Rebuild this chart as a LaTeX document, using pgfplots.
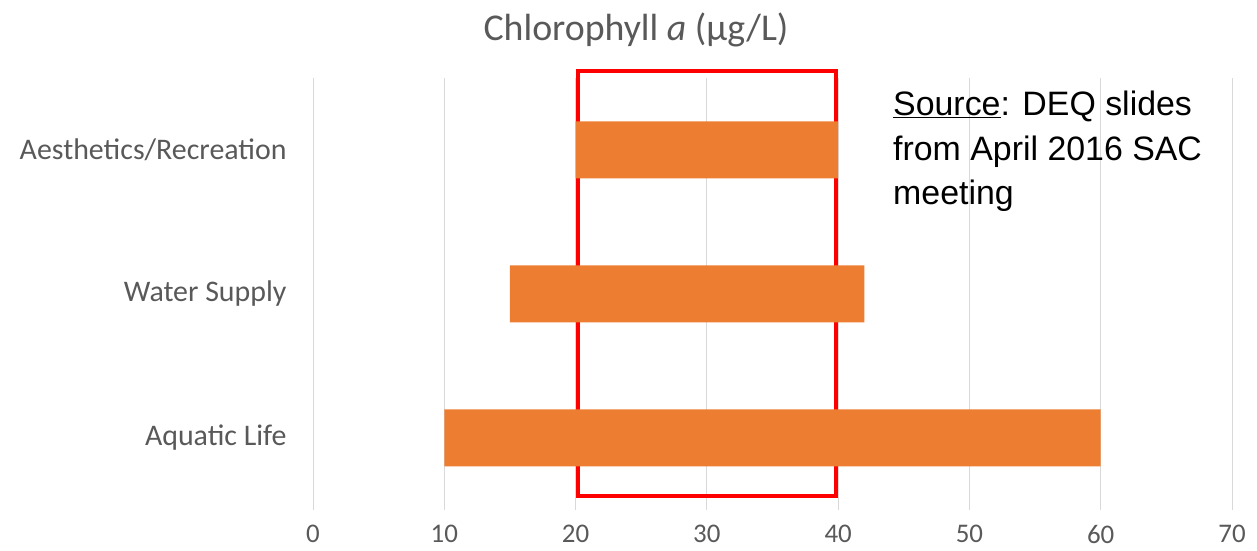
\documentclass[border=0pt]{standalone}
\usepackage{pgfplots}
\pgfplotsset{compat=1.18}
\usepackage{fontspec}
\setmainfont{Carlito}
\newfontfamily\srcfont{Liberation Sans}
\definecolor{barorange}{HTML}{ED7D31}
\definecolor{gridgray}{HTML}{D9D9D9}
\definecolor{textgray}{HTML}{595959}
\begin{document}
\begin{tikzpicture}
\useasboundingbox (0,0) rectangle (1257bp,551bp);
\begin{axis}[
  at={(313bp,41bp)}, anchor=south west,
  scale only axis, width=919bp, height=432bp,
  xmin=0, xmax=70, ymin=-0.5, ymax=2.5,
  xbar stacked, bar width=57bp,
  xtick={0,10,...,70}, ytick={0,1,2},
  yticklabels={Aquatic Life, Water Supply, Aesthetics/Recreation},
  xmajorgrids, grid style={color=gridgray, line width=1bp},
  axis line style={draw=none},
  major tick length=0pt,
  tick label style={text=textgray},
  xticklabel style={font=\fontsize{27}{32}\selectfont, yshift=-12bp},
  yticklabel style={font=\fontsize{30}{36}\selectfont, xshift=-23bp},
  /pgf/number format/assume math mode=true,
  clip=false,
]
\addplot[draw=none, fill=none, forget plot] coordinates {(10,0) (15,1) (20,2)};
\addplot[fill=barorange, draw=none] coordinates {(50,0) (27,1) (20,2)};
\draw[red, line width=4bp] (axis cs:20.18,-0.406) rectangle (axis cs:39.83,2.549);
\end{axis}
\node[text=textgray, font=\fontsize{38}{44}\selectfont] at (636bp,521bp) {Chlorophyll \textit{a} (µg/L)};
\node[anchor=base west, align=left, inner sep=0pt, font=\srcfont\fontsize{34}{45}\selectfont] at (893bp,346bp) {\underline{Source}: DEQ slides\\from April 2016 SAC\\meeting};
\end{tikzpicture}
\end{document}
